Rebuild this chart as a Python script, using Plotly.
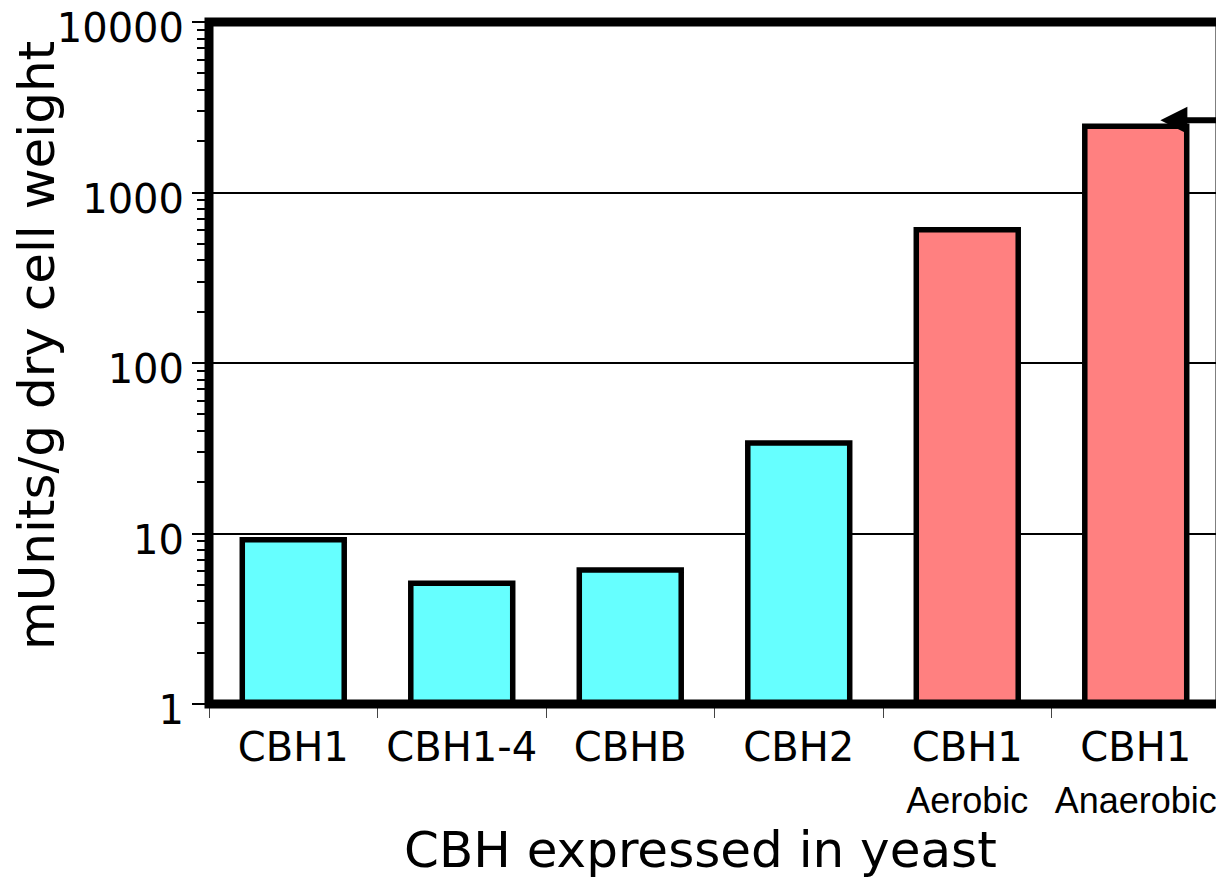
import math
import plotly.graph_objects as go

categories = ["CBH1", "CBH1-4", "CBHB", "CBH2", "CBH1 Aerobic", "CBH1 Anaerobic"]
main_labels = ["CBH1", "CBH1-4", "CBHB", "CBH2", "CBH1", "CBH1"]
sub_labels = ["", "", "", "", "Aerobic", "Anaerobic"]
values = [9.2, 5.1, 6.1, 34, 605, 2450]
colors = ["#66FFFF", "#66FFFF", "#66FFFF", "#66FFFF", "#FF8080", "#FF8080"]
y_ticks = [1, 10, 100, 1000, 10000]
y_minor = [m * 10 ** e for e in range(4) for m in range(2, 10)]
arrow_value = 2650

FONT = "DejaVu Sans"
SUBFONT = "Liberation Sans"

tick_text = [
    m if not s else f"{m}<br><span style='font-family:{SUBFONT};font-size:36px'>{s}</span>"
    for m, s in zip(main_labels, sub_labels)
]

fig = go.Figure()
fig.add_trace(go.Bar(
    x=categories, y=values,
    marker=dict(color=colors, line=dict(color="black", width=5.5)),
    width=0.605,
))

fig.update_layout(
    width=1216, height=874,
    margin=dict(l=201, r=4, t=14, b=178, autoexpand=False),
    plot_bgcolor="white", paper_bgcolor="white",
    showlegend=False,
    font=dict(family=FONT, color="black", size=36),
    xaxis=dict(
        tickvals=categories, ticktext=tick_text, tickangle=0,
        showline=False,
        ticks="outside", tickson="boundaries", ticklen=13, tickwidth=1, tickcolor="#444",
        tickfont=dict(size=40), ticklabeloverflow="allow", ticklabelstandoff=16,
        showgrid=False, automargin=False,
    ),
    yaxis=dict(
        type="log", range=[0, 4],
        tickvals=y_ticks, ticktext=[str(v) for v in y_ticks],
        showline=False,
        ticks="outside", ticklen=16, tickwidth=2, tickcolor="black",
        tickfont=dict(size=40), ticklabeloverflow="allow", ticklabelshift=6,
        showgrid=True, gridcolor="black", gridwidth=1.5,
        minor=dict(tickvals=y_minor, ticks="outside", ticklen=11, tickwidth=2,
                   tickcolor="black", showgrid=False),
        zeroline=False, automargin=False,
    ),
)

# thick frame around plot area
fig.add_shape(type="rect", xref="paper", yref="paper", x0=0, x1=1, y0=0, y1=1,
              line=dict(color="black", width=9), layer="above")

# axis titles
fig.add_annotation(text="mUnits/g dry cell weight", xref="paper", yref="paper",
                   x=-0.17, y=0.525, xanchor="center", yanchor="middle",
                   textangle=-90, showarrow=False, font=dict(size=50))
fig.add_annotation(text="CBH expressed in yeast", xref="paper", yref="paper",
                   x=0.4857, y=-0.214, xanchor="center", yanchor="middle",
                   showarrow=False, font=dict(size=50))

# arrow pointing at the top bar
fig.add_annotation(
    x=0.941, xref="x domain", y=math.log10(arrow_value), yref="y",
    ax=1.01, axref="x domain", ay=math.log10(arrow_value), ayref="y",
    showarrow=True, arrowhead=2, arrowsize=0.9, arrowwidth=6, arrowcolor="black",
    text="",
)

fig.write_html("out.html")
